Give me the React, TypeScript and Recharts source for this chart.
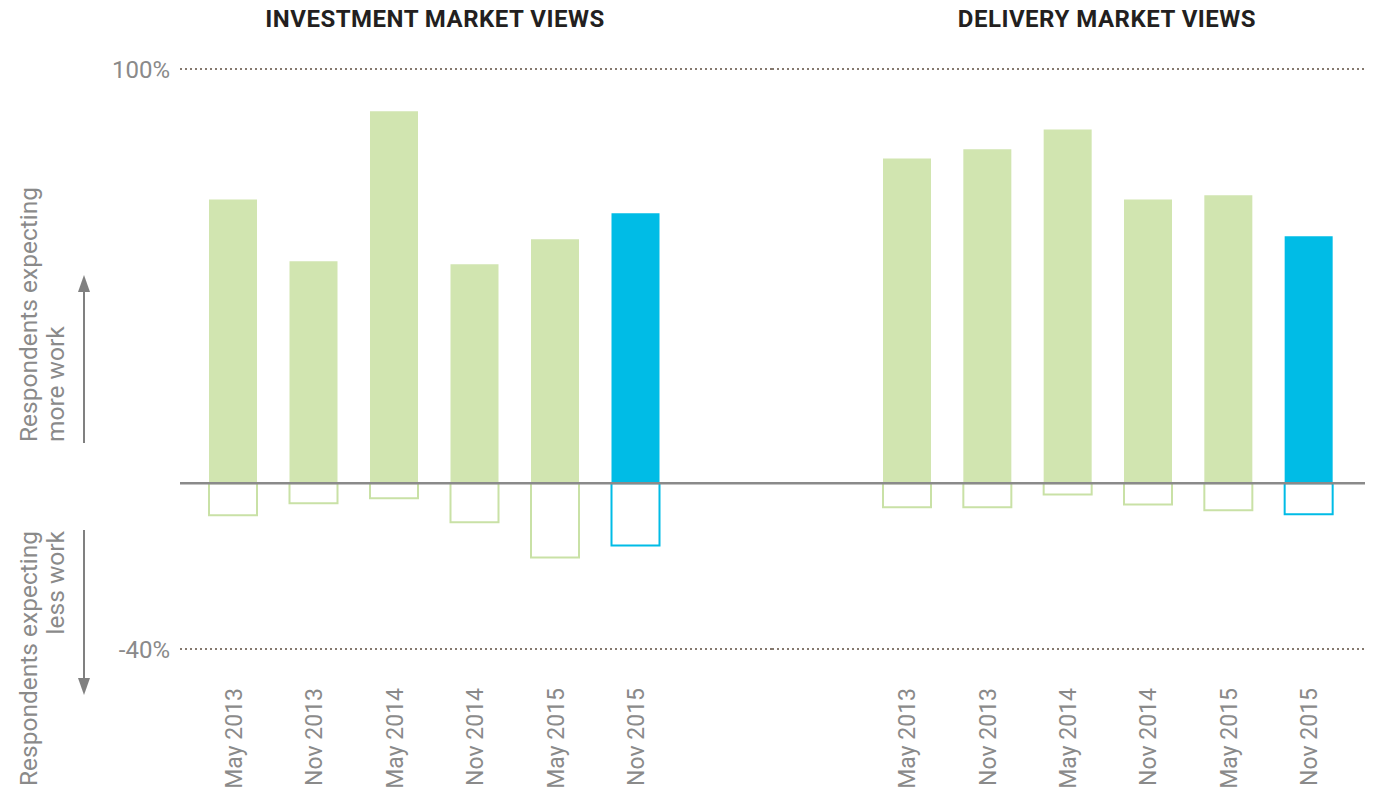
import React from 'react';
import { BarChart, Bar, XAxis, YAxis, Cell, ReferenceLine } from 'recharts';

// Survey periods, same for both panels
const periods = ['May 2013', 'Nov 2013', 'May 2014', 'Nov 2014', 'May 2015', 'Nov 2015'];

// % of respondents expecting more / less work
const investmentMore = [68.5, 53.6, 89.8, 52.9, 58.9, 65.2];
const investmentLess = [-7.7, -4.8, -3.6, -9.4, -17.9, -15.0];
const deliveryMore = [78.4, 80.6, 85.4, 68.5, 69.5, 59.6];
const deliveryLess = [-5.8, -5.8, -2.7, -5.1, -6.5, -7.5];

const yTicks = [-40, 100];

const GREEN = '#d1e5b0';
const GREEN_LINE = '#c9e1a6';
const BLUE = '#00bce6';
const GREY = '#8a8a8a';
const FONT = 'Roboto, "Liberation Sans", sans-serif';

const toRows = (more: number[], less: number[]) =>
  periods.map((p, i) => ({ period: p, more: more[i], less: less[i] }));

const investmentData = toRows(investmentMore, investmentLess);
const deliveryData = toRows(deliveryMore, deliveryLess);

const PeriodTick = (props: any) => {
  const { x, y, payload } = props;
  const top = y + 31;
  return (
    <text
      x={x}
      y={top}
      dy="0.36em"
      transform={`rotate(-90, ${x}, ${top})`}
      textAnchor="end"
      fill={GREY}
      fontSize={23}
      fontFamily={FONT}
    >
      {payload.value}
    </text>
  );
};

const Panel = ({ data, left, width, margin, padding, showY }: any) => {
  const last = data.length - 1;
  return (
    <div style={{ position: 'absolute', left, top: 0 }}>
      <BarChart width={width} height={795} data={data} margin={margin} stackOffset="sign">
        <XAxis
          dataKey="period"
          axisLine={false}
          tickLine={false}
          interval={0}
          height={140}
          padding={padding}
          tick={<PeriodTick />}
        />
        <YAxis
          hide={!showY}
          width={60}
          domain={[-40, 100]}
          ticks={yTicks}
          axisLine={false}
          tickLine={false}
          tickMargin={4}
          tickFormatter={(v: number) => `${v}%`}
          tick={{ fill: GREY, fontSize: 24, fontFamily: FONT }}
        />
        <ReferenceLine y={100} stroke="#85796f" strokeWidth={2} strokeDasharray="2 3" />
        <ReferenceLine y={-40} stroke="#85796f" strokeWidth={2} strokeDasharray="2 3" />
        <ReferenceLine y={0} stroke="#8a8a8a" strokeWidth={2.5} />
        <Bar dataKey="more" stackId="s" barSize={48} isAnimationActive={false}>
          {data.map((_: any, i: number) => (
            <Cell key={`m-${i}`} fill={i === last ? BLUE : GREEN} />
          ))}
        </Bar>
        <Bar dataKey="less" stackId="s" barSize={48} isAnimationActive={false}>
          {data.map((_: any, i: number) => (
            <Cell key={`l-${i}`} fill="#ffffff" stroke={i === last ? BLUE : GREEN_LINE} strokeWidth={2} />
          ))}
        </Bar>
      </BarChart>
    </div>
  );
};

const Annotations = () => (
  <svg width={120} height={795} style={{ position: 'absolute', left: 0, top: 0 }}>
    <g fill={GREY} fontSize={24.5} fontFamily={FONT}>
      <text x={28} y={442} dy="0.36em" transform="rotate(-90, 28, 442)" textAnchor="start">Respondents expecting</text>
      <text x={55} y={442} dy="0.36em" transform="rotate(-90, 55, 442)" textAnchor="start">more work</text>
      <text x={28} y={531} dy="0.36em" transform="rotate(-90, 28, 531)" textAnchor="end">Respondents expecting</text>
      <text x={55} y={531} dy="0.36em" transform="rotate(-90, 55, 531)" textAnchor="end">less work</text>
    </g>
    <line x1={84} y1={443} x2={84} y2={290} stroke="#808080" strokeWidth={2} />
    <polygon points="84,275 78,292 90,292" fill="#808080" />
    <line x1={84} y1={530} x2={84} y2={680} stroke="#808080" strokeWidth={2} />
    <polygon points="84,695 78,678 90,678" fill="#808080" />
  </svg>
);

const titleStyle: React.CSSProperties = {
  position: 'absolute',
  top: 5,
  width: 500,
  textAlign: 'center',
  fontFamily: FONT,
  fontWeight: 700,
  fontSize: 24,
  letterSpacing: 0.5,
  color: '#231f20',
  whiteSpace: 'nowrap',
};

export default function App() {
  return (
    <div style={{ position: 'absolute', left: 0, top: 0, width: 1388, height: 795, background: '#fff' }}>
      <div style={{ ...titleStyle, left: 435 - 250 }}>INVESTMENT MARKET VIEWS</div>
      <div style={{ ...titleStyle, left: 1107 - 250 }}>DELIVERY MARKET VIEWS</div>
      <Panel
        data={investmentData}
        left={0}
        width={772}
        margin={{ top: 69, right: 0, bottom: 6, left: 120 }}
        padding={{ left: 13, right: 96 }}
        showY
      />
      <Panel
        data={deliveryData}
        left={772}
        width={616}
        margin={{ top: 69, right: 23, bottom: 6, left: 0 }}
        padding={{ left: 95, right: 16 }}
        showY={false}
      />
      <Annotations />
    </div>
  );
}
